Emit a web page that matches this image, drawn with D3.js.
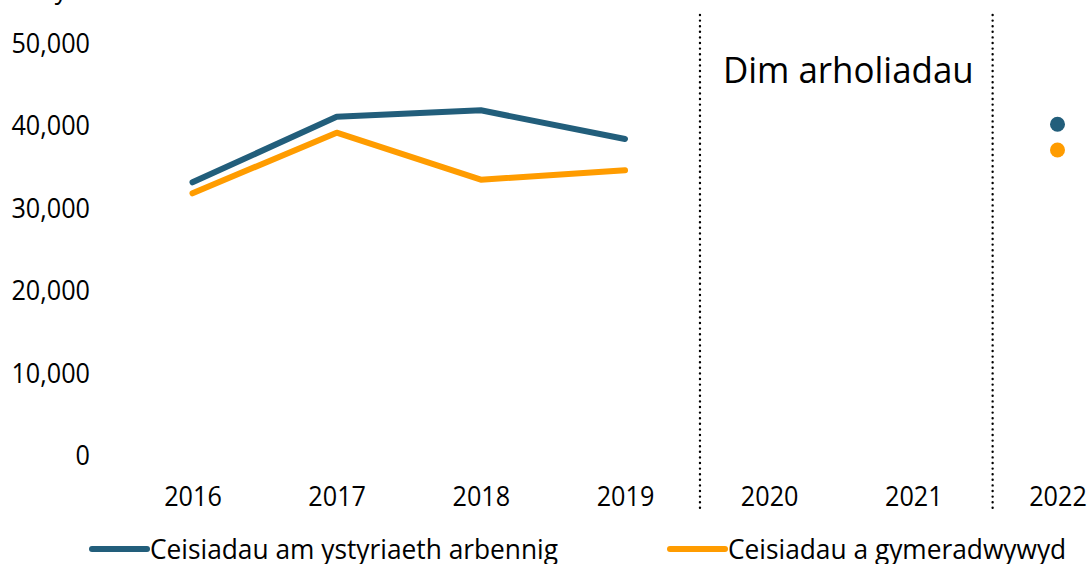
<!DOCTYPE html>
<meta charset="utf-8">
<title>Ceisiadau am ystyriaeth arbennig</title>
<style>
  body { margin: 0; background: #fff; }
  text { font-family: "Open Sans", "Noto Sans", sans-serif; fill: #000; }
  .series { fill: none; stroke-width: 6px; stroke-linecap: round; stroke-linejoin: round; }
  .divider { stroke: #000; stroke-width: 2.4px; stroke-linecap: round; stroke-dasharray: 0 5.6; }
</style>
<body>
<script src="https://d3js.org/d3.v7.min.js"></script>
<script>

var width = 1089,
    height = 564;

// data
var years = ["2016", "2017", "2018", "2019", "2020", "2021", "2022"];
var lineYears = ["2016", "2017", "2018", "2019"];
var requested = [33050, 41000, 41780, 38300];   // Ceisiadau am ystyriaeth arbennig
var approved = [31720, 39070, 33370, 34510];    // Ceisiadau a gymeradwywyd
var requested2022 = 40090;
var approved2022 = 36970;
var yTicks = [0, 10000, 20000, 30000, 40000, 50000];
var seriesNames = ["Ceisiadau am ystyriaeth arbennig", "Ceisiadau a gymeradwywyd"];
var colors = ["#225e7b", "#ff9c00"];
var gapLabel = "Dim arholiadau";
var topLabel = "Nifer y ceisiadau";

var squeeze = 0.9;

var svg = d3.select("body").append("svg")
  .attr("width", width)
  .attr("height", height);

var x = d3.scalePoint()
  .domain(years)
  .range([192.5, 1057.5]);

var y = d3.scaleLinear()
  .domain([0, 50000])
  .range([455, 42.5]);

var step = x.step();

// cut-off label at the very top
svg.append("text")
  .attr("transform", "translate(-10,-2) scale(" + squeeze + ",1)")
  .style("font-size", "28px")
  .text(topLabel);

// y axis labels (no axis line)
var yAxis = d3.axisLeft(y).tickValues(yTicks).tickFormat(d3.format(",")).tickSize(0);
var gy = svg.append("g").attr("transform", "translate(90,0)").call(yAxis);
gy.select(".domain").remove();
gy.selectAll("text")
  .attr("x", 0)
  .attr("dy", "0.35em")
  .attr("transform", "scale(" + squeeze + ",1)")
  .style("font-size", "28px")
  .style("font-family", "'Open Sans', sans-serif")
  .attr("fill", "#000");

// x axis labels
var xAxis = d3.axisBottom(x).tickSize(0);
var gx = svg.append("g").attr("transform", "translate(0,496)").call(xAxis);
gx.select(".domain").remove();
gx.selectAll("text")
  .attr("y", 0)
  .attr("dy", "0.35em")
  .attr("transform", "scale(" + squeeze + ",1)")
  .style("font-size", "28px")
  .style("font-family", "'Open Sans', sans-serif")
  .attr("fill", "#000");

// dotted dividers around the no-exam years
var dividers = [x("2019") + step * 0.52, x("2021") + step * 0.55];
svg.selectAll(".divider").data(dividers).enter().append("line")
  .attr("class", "divider")
  .attr("x1", function(d) { return d; })
  .attr("x2", function(d) { return d; })
  .attr("y1", 15)
  .attr("y2", 510);

svg.append("text")
  .attr("transform", "translate(" + ((dividers[0] + dividers[1]) / 2 + 2) + ",83) scale(0.97,1)")
  .attr("text-anchor", "middle")
  .style("font-size", "36px")
  .text(gapLabel);

// lines
var line = d3.line()
  .x(function(d) { return x(d.year); })
  .y(function(d) { return y(d.value); });

var lineData = [requested, approved].map(function(vals) {
  return lineYears.map(function(yr, i) { return { year: yr, value: vals[i] }; });
});

svg.selectAll(".series").data(lineData).enter().append("path")
  .attr("class", "series")
  .attr("stroke", function(d, i) { return colors[i]; })
  .attr("d", line);

// 2022 points
svg.selectAll(".dot").data([requested2022, approved2022]).enter().append("circle")
  .attr("class", "dot")
  .attr("cx", x("2022"))
  .attr("cy", function(d) { return y(d); })
  .attr("r", 7.5)
  .attr("fill", function(d, i) { return colors[i]; });

// legend
var legendX = [90, 668];
var legend = svg.selectAll(".legend").data(seriesNames).enter().append("g")
  .attr("class", "legend")
  .attr("transform", function(d, i) { return "translate(" + legendX[i] + ",549)"; });

legend.append("line")
  .attr("x1", 2).attr("x2", 57)
  .attr("y1", 0).attr("y2", 0)
  .attr("stroke", function(d, i) { return colors[i]; })
  .attr("stroke-width", 6)
  .attr("stroke-linecap", "round");

legend.append("text")
  .attr("transform", "translate(60,10) scale(0.94,1)")
  .style("font-size", "28px")
  .text(function(d) { return d; });

</script>
